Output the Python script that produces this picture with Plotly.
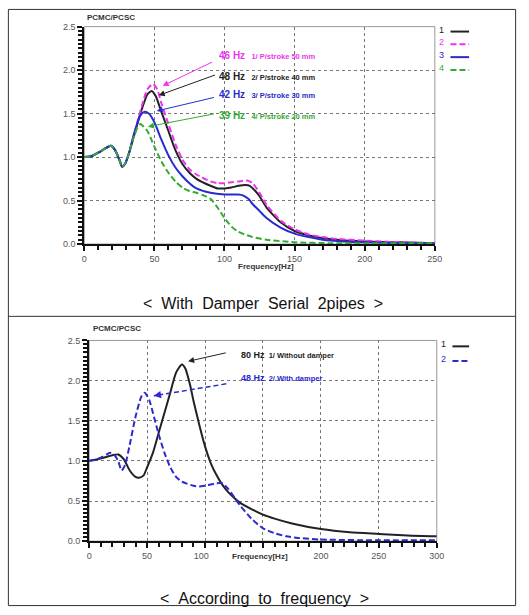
import plotly.graph_objects as go

W, H = 529, 615

# ---------------- data: top chart ----------------
top_x1 = [0, 5, 10, 15, 19, 22, 25, 27, 29, 32, 35, 40, 45, 48, 51, 55, 60, 65, 70, 75, 80, 90, 95, 100, 105, 110, 115, 118, 122, 125, 130, 140, 150, 160, 170, 180, 200, 225, 250]
top_y1 = [1.0, 1.01, 1.05, 1.10, 1.13, 1.08, 0.97, 0.89, 0.92, 1.05, 1.22, 1.50, 1.72, 1.76, 1.70, 1.52, 1.30, 1.08, 0.92, 0.82, 0.75, 0.67, 0.64, 0.64, 0.65, 0.67, 0.68, 0.67, 0.61, 0.55, 0.42, 0.25, 0.15, 0.10, 0.07, 0.05, 0.03, 0.02, 0.01]
top_x2 = [0, 5, 10, 15, 19, 22, 25, 27, 29, 32, 35, 40, 45, 49, 52, 55, 60, 65, 70, 75, 80, 90, 95, 100, 105, 110, 116, 120, 125, 130, 140, 150, 160, 170, 180, 200, 225, 250]
top_y2 = [1.0, 1.01, 1.05, 1.10, 1.13, 1.08, 0.97, 0.89, 0.92, 1.05, 1.23, 1.53, 1.78, 1.84, 1.78, 1.62, 1.38, 1.15, 0.97, 0.86, 0.80, 0.72, 0.70, 0.70, 0.71, 0.72, 0.73, 0.70, 0.59, 0.45, 0.27, 0.17, 0.11, 0.08, 0.06, 0.04, 0.02, 0.01]
top_x3 = [0, 5, 10, 15, 19, 22, 25, 27, 29, 32, 35, 40, 43, 46, 50, 55, 60, 65, 70, 75, 80, 90, 100, 110, 113, 117, 120, 125, 130, 140, 150, 160, 170, 185, 200, 225, 250]
top_y3 = [1.0, 1.01, 1.05, 1.10, 1.13, 1.08, 0.97, 0.89, 0.92, 1.05, 1.24, 1.48, 1.52, 1.50, 1.40, 1.20, 1.02, 0.88, 0.78, 0.70, 0.64, 0.59, 0.57, 0.57, 0.56, 0.52, 0.46, 0.38, 0.30, 0.19, 0.12, 0.08, 0.05, 0.03, 0.02, 0.01, 0.01]
top_x4 = [0, 5, 10, 15, 19, 22, 25, 27, 29, 32, 35, 38, 40, 45, 50, 55, 60, 65, 70, 75, 80, 85, 90, 95, 100, 105, 110, 120, 130, 150, 175, 200, 250]
top_y4 = [1.0, 1.01, 1.05, 1.10, 1.13, 1.08, 0.97, 0.89, 0.92, 1.05, 1.22, 1.34, 1.38, 1.30, 1.12, 0.95, 0.82, 0.72, 0.65, 0.61, 0.59, 0.56, 0.52, 0.42, 0.30, 0.20, 0.14, 0.08, 0.05, 0.02, 0.01, 0.01, 0.01]

top_names = ["1", "2", "3", "4"]
top_colors = ["#222222", "#ee33ee", "#2a2ad0", "#33aa33"]
top_dashes = ["solid", "dash", "solid", "dash"]
top_notes = ["46 Hz", "48 Hz", "42 Hz", "39 Hz"]
top_labels = ["1/ P/stroke 50 mm", "2/ P/stroke 40 mm", "3/ P/stroke 30 mm", "4/ P/stroke 20 mm"]
top_note_colors = ["#ee33ee", "#222222", "#2a2ad0", "#33aa33"]
top_tickvals = [0, 50, 100, 150, 200, 250]
top_ticktext = ["0", "50", "100", "150", "200", "250"]

# ---------------- data: bottom chart ----------------
bot_x1 = [0, 10, 20, 25, 30, 35, 40, 43, 47, 50, 55, 60, 65, 70, 75, 80, 83, 87, 90, 95, 100, 105, 110, 115, 120, 125, 130, 140, 150, 160, 175, 200, 225, 250, 275, 300]
bot_y1 = [1.0, 1.03, 1.07, 1.08, 1.02, 0.88, 0.80, 0.79, 0.82, 0.92, 1.10, 1.35, 1.60, 1.85, 2.10, 2.20, 2.15, 1.95, 1.75, 1.45, 1.18, 0.97, 0.82, 0.70, 0.61, 0.54, 0.48, 0.40, 0.33, 0.28, 0.22, 0.15, 0.11, 0.09, 0.07, 0.06]
bot_x2 = [0, 5, 10, 15, 18, 22, 25, 28, 31, 35, 40, 45, 48, 52, 55, 60, 65, 70, 75, 80, 90, 95, 100, 110, 115, 120, 130, 140, 150, 160, 170, 180, 200, 250, 300]
bot_y2 = [1.0, 1.01, 1.04, 1.08, 1.10, 1.07, 1.00, 0.88, 0.95, 1.20, 1.55, 1.80, 1.85, 1.75, 1.60, 1.33, 1.10, 0.92, 0.80, 0.74, 0.69, 0.68, 0.69, 0.72, 0.72, 0.65, 0.45, 0.28, 0.16, 0.10, 0.06, 0.04, 0.02, 0.01, 0.01]

bot_names = ["1", "2"]
bot_colors = ["#222222", "#2a2ad0"]
bot_dashes = ["solid", "dash"]
bot_notes = ["80 Hz", "48 Hz"]
bot_labels = ["1/ Without damper", "2/ With damper"]
bot_tickvals = [0, 50, 100, 150, 200, 250, 300]
bot_ticktext = ["0", "50", "100\u00a0\u00a0\u00a0", "", "200", "250", "300"]

y_tickvals = [0, 0.5, 1.0, 1.5, 2.0, 2.5]
x_title = "Frequency[Hz]"
y_title = "PCMC/PCSC"
captions = ["<  With  Damper  Serial  2pipes  >", "<  According  to  frequency  >"]

DASH = "6px,3px"


def px(x):
    return x / W


def py(y):
    return 1 - y / H


fig = go.Figure()

top_series = [(top_x1, top_y1), (top_x2, top_y2), (top_x3, top_y3), (top_x4, top_y4)]
for (xs, ys), n, c, d in zip(top_series, top_names, top_colors, top_dashes):
    fig.add_trace(go.Scatter(x=xs, y=ys, name=n, mode="lines", xaxis="x", yaxis="y",
                             line=dict(color=c, dash=DASH if d == "dash" else "solid", width=2,
                                       shape="spline", smoothing=0.6),
                             showlegend=False))

bot_series = [(bot_x1, bot_y1), (bot_x2, bot_y2)]
for (xs, ys), n, c, d in zip(bot_series, bot_names, bot_colors, bot_dashes):
    fig.add_trace(go.Scatter(x=xs, y=ys, name=n, mode="lines", xaxis="x2", yaxis="y2",
                             line=dict(color=c, dash=DASH if d == "dash" else "solid", width=2,
                                       shape="spline", smoothing=0.6),
                             showlegend=False))

tickfont = dict(family="Liberation Sans, Arial", size=9, color="#555555")
axis_common = dict(showline=True, linecolor="#111111", linewidth=2, ticks="outside",
                   ticklen=5, tickcolor="#111111", tickwidth=1.5, tickfont=tickfont,
                   showgrid=True, gridcolor="#777777", griddash="dot", gridwidth=1,
                   zeroline=False, fixedrange=True)
minor_x = dict(dtick=10, ticks="outside", ticklen=4, tickwidth=2, tickcolor="#111111", showgrid=False)
minor_y = dict(dtick=0.05, ticks="outside", ticklen=4, tickwidth=1.5, tickcolor="#111111", showgrid=False)

fig.update_layout(
    width=W, height=H, margin=dict(l=0, r=0, t=0, b=0),
    paper_bgcolor="white", plot_bgcolor="white",
    xaxis=dict(domain=[px(83), px(441)], range=[0, 250], anchor="y",
               tickvals=top_tickvals, ticktext=top_ticktext, minor=minor_x, **axis_common),
    yaxis=dict(domain=[py(243), py(22)], range=[0, 2.5], anchor="x", tickvals=y_tickvals,
               tickformat=".1f", minor=minor_y, **axis_common),
    xaxis2=dict(domain=[px(88), px(443)], range=[0, 300], anchor="y2",
                tickvals=bot_tickvals, ticktext=bot_ticktext, minor=minor_x, **axis_common),
    yaxis2=dict(domain=[py(545), py(341)], range=[0, 2.5], anchor="x2", tickvals=y_tickvals,
                tickformat=".1f", minor=minor_y, **axis_common),
)

shapes = []
for xr, yr in [("x", "y"), ("x2", "y2")]:
    shapes.append(dict(type="rect", xref=f"{xr} domain", yref=f"{yr} domain", x0=0, x1=1, y0=0, y1=1,
                       line=dict(color="#999999", width=1), layer="below"))
shapes.append(dict(type="rect", xref="paper", yref="paper", x0=px(5.5), x1=px(523.5), y0=py(610.5), y1=py(4.5),
                   line=dict(color="#333333", width=1)))
shapes.append(dict(type="line", xref="paper", yref="paper", x0=px(5.5), x1=px(523.5), y0=py(316.5), y1=py(316.5),
                   line=dict(color="#333333", width=1)))

annotations = []

# legends (drawn)
top_leg_y = [27, 40, 53, 66]
for n, c, d, yy in zip(top_names, top_colors, top_dashes, top_leg_y):
    annotations.append(dict(xref="paper", yref="paper", x=px(448), y=py(yy - 2), text=n, showarrow=False,
                            font=dict(family="Liberation Sans, Arial", size=9, color=c),
                            xanchor="center", yanchor="middle"))
    shapes.append(dict(type="line", xref="paper", yref="paper", x0=px(457), x1=px(476), y0=py(yy), y1=py(yy),
                       line=dict(color=c, width=2, dash=DASH if d == "dash" else "solid")))
bot_leg_y = [347, 362]
for n, c, d, yy in zip(bot_names, bot_colors, bot_dashes, bot_leg_y):
    annotations.append(dict(xref="paper", yref="paper", x=px(450), y=py(yy - 2), text=n, showarrow=False,
                            font=dict(family="Liberation Sans, Arial", size=9, color=c),
                            xanchor="center", yanchor="middle"))
    shapes.append(dict(type="line", xref="paper", yref="paper", x0=px(459), x1=px(476), y0=py(yy), y1=py(yy),
                       line=dict(color=c, width=2, dash=DASH if d == "dash" else "solid")))

# axis titles
for xx, yy in [(84, 13), (90, 329)]:
    annotations.append(dict(xref="paper", yref="paper", x=px(xx), y=py(yy), text=f"<b>{y_title}</b>",
                            showarrow=False, font=dict(family="Liberation Sans, Arial", size=8, color="#333333"),
                            xanchor="left", yanchor="middle"))
for xx, yy in [(269, 266), (262, 561)]:
    annotations.append(dict(xref="paper", yref="paper", x=px(xx), y=py(yy), text=f"<b>{x_title}</b>",
                            showarrow=False, font=dict(family="Liberation Sans, Arial", size=8, color="#333333"),
                            xanchor="center", yanchor="middle"))

# captions
for cap, xx, yy in [(captions[0], 266, 303), (captions[1], 267, 603)]:
    annotations.append(dict(xref="paper", yref="paper", x=px(xx), y=py(yy),
                            text=cap.replace("  ", "\u00a0\u00a0"), showarrow=False,
                            font=dict(family="Liberation Sans, Arial", size=16, color="#111111"),
                            xanchor="center", yanchor="middle"))

# top arrows and notes
top_heads = [(55.9, 1.82), (53.1, 1.71), (51.7, 1.53), (45.4, 1.35)]
top_tails = [(92.2, 2.10), (94.3, 1.95), (93.6, 1.69), (93.6, 1.50)]
top_text_y = [2.17, 1.93, 1.72, 1.48]
for note, lab, c, hd, tl, ty in zip(top_notes, top_labels, top_note_colors, top_heads, top_tails, top_text_y):
    annotations.append(dict(xref="x", yref="y", axref="x", ayref="y", x=hd[0], y=hd[1], ax=tl[0], ay=tl[1],
                            text="", showarrow=True, arrowhead=2, arrowsize=1.2, arrowwidth=1, arrowcolor=c))
    annotations.append(dict(xref="x", yref="y", x=94.5, y=ty, showarrow=False, xanchor="left", yanchor="middle",
                            text=f"<b><span style='font-size:10px'>{note}</span></b>\u00a0\u00a0\u00a0<b>{lab}</b>",
                            font=dict(family="Liberation Sans, Arial", size=7.5, color=c)))

# bottom arrows and notes
bot_heads = [(85.4, 2.24), (55.8, 1.81)]
bot_tails = [(119.2, 2.35), (118.3, 1.96)]
bot_text_y = [2.32, 2.03]
for i, (note, lab, c, hd, tl, ty) in enumerate(zip(bot_notes, bot_labels, bot_colors, bot_heads, bot_tails, bot_text_y)):
    if bot_dashes[i] == "dash":
        shapes.append(dict(type="line", xref="x2", yref="y2", x0=tl[0], y0=tl[1], x1=hd[0], y1=hd[1],
                           line=dict(color=c, width=1.5, dash="5px,3px")))
        annotations.append(dict(xref="x2", yref="y2", axref="x2", ayref="y2", x=hd[0], y=hd[1],
                                ax=hd[0] + (tl[0] - hd[0]) * 0.12, ay=hd[1] + (tl[1] - hd[1]) * 0.12,
                                text="", showarrow=True, arrowhead=2, arrowsize=1.2, arrowwidth=1.2,
                                arrowcolor=c))
    else:
        annotations.append(dict(xref="x2", yref="y2", axref="x2", ayref="y2", x=hd[0], y=hd[1],
                                ax=tl[0], ay=tl[1], text="", showarrow=True, arrowhead=2, arrowsize=1.2,
                                arrowwidth=1, arrowcolor=c))
    annotations.append(dict(xref="x2", yref="y2", x=129.3, y=ty, showarrow=False, xanchor="left",
                            yanchor="middle",
                            text=f"<b><span style='font-size:9px'>{note}</span></b>\u00a0\u00a0<b>{lab}</b>",
                            font=dict(family="Liberation Sans, Arial", size=7.5, color=c)))

fig.update_layout(shapes=shapes, annotations=annotations)
fig.write_html("out.html")
